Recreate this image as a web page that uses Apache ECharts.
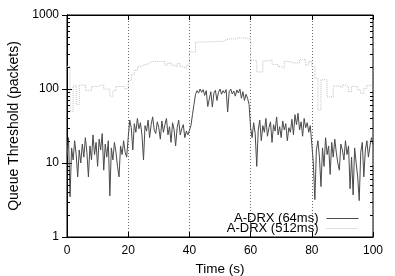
<!DOCTYPE html>
<html><head><meta charset="utf-8">
<script src="https://cdn.jsdelivr.net/npm/echarts@6/dist/echarts.min.js"></script>
<style>html,body{margin:0;padding:0;background:#fff}#c{width:395px;height:276px}</style>
</head><body><div id="c"></div>
<script>
// ---- data ----
const xTickLabels = ['0','20','40','60','80','100'];
const yTickLabels = ['1','10','100','1000'];
const yMinorTicks = [2,3,4,5,6,7,8,9,20,30,40,50,60,70,80,90,200,300,400,500,600,700,800,900];
const seriesNames = ['A-DRX (64ms)', 'A-DRX (512ms)'];

// A-DRX (64ms): one value every 0.5 s, 0..100 s
const darkStep = 0.5;
const dark_0_20 = [12,22,3.5,16,11, 20,13,6.5,15,10, 18,12,22,14,6.5, 17,11,24,13,19, 9,21,15,25,8, 18,12,20,3.6,16, 11,19,14,9,6.5, 17,13,20,14,12];
const dark_20_40 = [22,38,30,15,34, 26,40,29,35,24, 11,32,27,38,22, 33,42,28,25,36, 30,21,37,26,33, 40,24,31,19,35, 28,17,30,38,24, 29,33,22,27,24];
const dark_40_60 = [25,32,45,62,85, 95,88,100,90,98, 82,95,58,60,92, 57,88,96,70,90, 100,85,95,88,98, 49,92,100,86,94, 80,97,88,100,75, 92,70,85,75,62];
const dark_60_80 = [30,22,35,25,9, 28,38,20,32,26, 40,23,30,36,19, 33,27,42,24,31, 22,37,28,34,20, 30,26,39,24,45, 33,47,28,36,23, 40,30,35,26,32];
const dark_80_100 = [18,10,3.2,15,20, 12,4.8,16,9,22, 13,17,7,19,12, 21,14,10,8,18, 15,11,20,13,17, 4.5,12,3.7,16,10, 6.5,3.1,14,19,6.5, 15,20,12,17,22, 18];

// A-DRX (512ms): one value per second (step), 0..100 s
const lightStep = 1;
const light_0_20 = [200,50,110,62,113, 113,95,95,108,108, 113,113,100,100,80, 95,108,108,108,100];
const light_20_40 = [130,155,180,200,210, 215,225,235,235,235, 235,235,210,225,210, 200,220,200,190,210];
const light_40_60 = [316,316,430,430,430, 435,435,435,440,440, 440,460,475,475,475, 490,490,490,480,480];
const light_60_80 = [245,245,170,170,240, 240,250,215,215,200, 190,235,235,225,225, 225,250,250,210,235];
const light_80_100 = [200,140,52,133,133, 78,78,110,110,105, 113,108,92,108,108, 97,87,102,112,108, 108];

// ---- build ----
const darkVals = [].concat(dark_0_20, dark_20_40, dark_40_60, dark_60_80, dark_80_100);
const lightVals = [].concat(light_0_20, light_20_40, light_40_60, light_60_80, light_80_100);
const darkData = darkVals.map((v,i)=>[i*darkStep, v]);
const lightData = lightVals.map((v,i)=>[i*lightStep, v]);

const FONT = 'Liberation Sans';
const chart = echarts.init(document.getElementById('c'), null, {renderer:'canvas'});
chart.setOption({
  animation: false,
  backgroundColor: '#fff',
  textStyle: {fontFamily: FONT},
  grid: {left: 67, right: 22, top: 15, bottom: 39, containLabel: false, outerBoundsMode: 'none',
    show: true, borderColor: '#000', borderWidth: 1, backgroundColor: 'transparent'},
  legend: {
    data: seriesNames,
    orient: 'vertical', align: 'right',
    right: 36, top: 212,
    itemWidth: 32, itemHeight: 8, itemGap: -3,
    itemStyle: {opacity: 0},
    lineStyle: {width: 1},
    textStyle: {fontFamily: FONT, fontSize: 13, color: '#000', lineHeight: 11, padding: [0,3,0,0]},
    padding: 0
  },
  xAxis: [{
    type: 'value', min: 0, max: 100, interval: 20,
    name: 'Time (s)', nameLocation: 'middle', nameGap: 20,
    nameTextStyle: {fontFamily: FONT, fontSize: 13.5, color: '#000'},
    axisLine: {show: true, lineStyle: {color: '#000'}},
    axisTick: {show: true, inside: true, length: 5, lineStyle: {color: '#000'}},
    axisLabel: {fontFamily: FONT, fontSize: 12, color: '#000', margin: 8,
      formatter: (v)=> xTickLabels[Math.round(v/20)]},
    splitLine: {show: true, lineStyle: {color: '#6a6a6a', type: [1,2], width: 1}}
  },{
    type: 'value', min: 0, max: 100, interval: 20, position: 'top',
    axisLine: {show: true, lineStyle: {color: '#000'}},
    axisTick: {show: true, inside: true, length: 5, lineStyle: {color: '#000'}},
    axisLabel: {show: false}, splitLine: {show: false}
  }],
  yAxis: [{
    type: 'log', logBase: 10, min: 1, max: 1000,
    name: 'Queue Threshold (packets)', nameLocation: 'middle', nameGap: 46,
    nameTextStyle: {fontFamily: FONT, fontSize: 14, color: '#000'},
    axisLine: {show: true, lineStyle: {color: '#000'}},
    axisTick: {show: true, inside: true, length: 5, lineStyle: {color: '#000'}},
    axisLabel: {fontFamily: FONT, fontSize: 12, color: '#000', margin: 8,
      formatter: (v)=> yTickLabels[Math.round(Math.log10(v))]},
    splitLine: {show: false}
  },{
    type: 'log', logBase: 10, min: 1, max: 1000, position: 'right',
    axisLine: {show: true, lineStyle: {color: '#000'}},
    axisTick: {show: true, inside: true, length: 5, lineStyle: {color: '#000'}},
    axisLabel: {show: false}, splitLine: {show: false}
  }],
  series: [{
    name: seriesNames[0], type: 'line', data: darkData, symbol: 'none',
    lineStyle: {color: '#4a4a4a', width: 1}, itemStyle: {color: '#4a4a4a'},
    z: 3
  },{
    name: seriesNames[1], type: 'line', data: lightData, symbol: 'none', step: 'end',
    lineStyle: {color: '#c0c0c0', width: 1, type: [1,1]}, itemStyle: {color: '#c0c0c0'},
    z: 2
  },{
    type: 'custom', silent: true, z: 5,
    data: yMinorTicks.map(v=>[0, v]),
    renderItem: function(params, api){
      const v = api.value(1);
      const p0 = api.coord([0, v]);
      const p1 = api.coord([100, v]);
      const y = Math.round(p0[1]) + 0.5;
      return {type:'group', children:[
        {type:'line', shape:{x1:p0[0], y1:y, x2:p0[0]+3, y2:y}, style:{stroke:'#000', lineWidth:1}},
        {type:'line', shape:{x1:p1[0]-3, y1:y, x2:p1[0], y2:y}, style:{stroke:'#000', lineWidth:1}}
      ]};
    }
  }]
});
</script>
</body></html>
